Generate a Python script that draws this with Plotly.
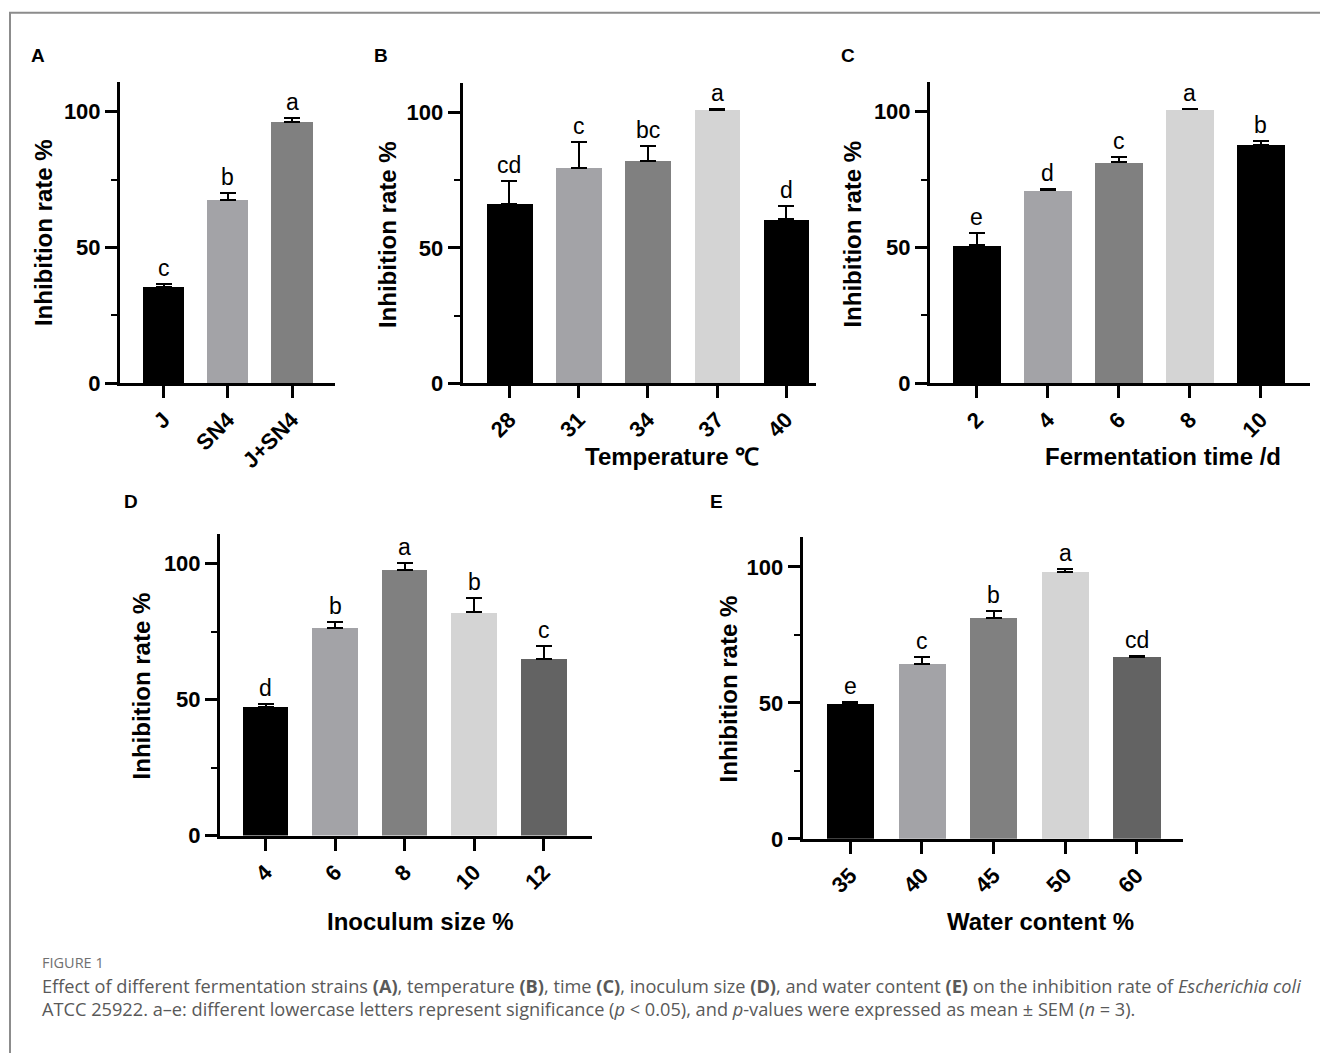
import plotly.graph_objects as go

W, H = 1320, 1053

# ---------------- data ----------------
cat_A = ["J", "SN4", "J+SN4"]
val_A = [35.6, 67.4, 96.2]
err_A = [1.0, 2.5, 1.6]
sig_A = ["c", "b", "a"]

cat_B = ["28", "31", "34", "37", "40"]
val_B = [66.4, 79.6, 82.2, 101.1, 60.5]
err_B = [8.3, 9.5, 5.3, 0.2, 5.1]
sig_B = ["cd", "c", "bc", "a", "d"]

cat_C = ["2", "4", "6", "8", "10"]
val_C = [50.8, 71.0, 81.3, 100.8, 87.7]
err_C = [4.6, 0.4, 2.0, 0.2, 1.3]
sig_C = ["e", "d", "c", "a", "b"]

cat_D = ["4", "6", "8", "10", "12"]
val_D = [47.3, 76.4, 97.8, 82.1, 64.9]
err_D = [0.9, 2.1, 2.5, 5.1, 4.7]
sig_D = ["d", "b", "a", "b", "c"]

cat_E = ["35", "40", "45", "50", "60"]
val_E = [49.4, 64.3, 81.1, 98.2, 66.9]
err_E = [0.9, 2.4, 2.6, 1.1, 0.4]
sig_E = ["e", "c", "b", "a", "cd"]

y_ticks = [0, 50, 100]
y_title = "Inhibition rate %"

# ---------------- styling ----------------
BLACK, MID, DARK, LIGHT, DEEP = "#000000", "#a3a3a7", "#808080", "#d4d4d4", "#636363"
FONT = "Liberation Sans, Arial, sans-serif"

panels = [
    dict(key="A", cats=cat_A, vals=val_A, errs=err_A, sig=sig_A,
         colors=[BLACK, MID, DARK], xpx=(120, 335), y0=388, y100=113,
         xr=(-0.68, 2.67), bw=0.64, xtitle=None,
         ytpos=(43, 236), letter=(38, 56)),
    dict(key="B", cats=cat_B, vals=val_B, errs=err_B, sig=sig_B,
         colors=[BLACK, MID, DARK, LIGHT, BLACK], xpx=(462.7, 816), y0=388, y100=114,
         xr=(-0.676, 4.43), bw=0.66, xtitle=("Temperature ℃", 672, 462),
         ytpos=(387, 237), letter=(381, 56)),
    dict(key="C", cats=cat_C, vals=val_C, errs=err_C, sig=sig_C,
         colors=[BLACK, MID, DARK, LIGHT, BLACK], xpx=(930, 1310), y0=388, y100=113,
         xr=(-0.66, 4.69), bw=0.666, xtitle=("Fermentation time /d", 1163, 462),
         ytpos=(852.5, 237), letter=(848, 56)),
    dict(key="D", cats=cat_D, vals=val_D, errs=err_D, sig=sig_D,
         colors=[BLACK, MID, DARK, LIGHT, DEEP], xpx=(220, 591.7), y0=846, y100=570.7,
         xr=(-0.655, 4.69), bw=0.657, xtitle=("Inoculum size %", 420, 933),
         ytpos=(141, 695), letter=(131, 508)),
    dict(key="E", cats=cat_E, vals=val_E, errs=err_E, sig=sig_E,
         colors=[BLACK, MID, DARK, LIGHT, DEEP], xpx=(802.7, 1183.3), y0=849.3, y100=574,
         xr=(-0.665, 4.65), bw=0.66, xtitle=("Water content %", 1040, 933),
         ytpos=(728, 698), letter=(716, 508)),
]

YMAX = 111


def px_x(v):
    return v / W


def px_y(v):
    return 1 - v / H


fig = go.Figure()
annotations = []

for i, p in enumerate(panels, start=1):
    xa = "x" if i == 1 else f"x{i}"
    ya = "y" if i == 1 else f"y{i}"
    unit = (p["y0"] - p["y100"]) / 100.0
    ytop = p["y0"] - YMAX * unit

    fig.add_trace(go.Bar(
        x=p["cats"], y=p["vals"], width=p["bw"],
        marker=dict(color=p["colors"], line=dict(width=0)),
        error_y=dict(type="data", symmetric=False, array=p["errs"],
                     arrayminus=[0] * len(p["errs"]), color="black",
                     thickness=2, width=8),
        xaxis=xa, yaxis=ya, showlegend=False, hoverinfo="skip",
    ))

    axis_common = dict(showline=True, linecolor="black", linewidth=3,
                       ticks="outside", tickwidth=3, tickcolor="black",
                       showgrid=False, zeroline=False, fixedrange=True)
    fig.update_layout(**{
        ("xaxis" if i == 1 else f"xaxis{i}"): dict(
            axis_common, type="category", domain=[px_x(p["xpx"][0]), px_x(p["xpx"][1])],
            range=list(p["xr"]), anchor=ya, ticklen=12, tickangle=-45,
            tickfont=dict(family=FONT, size=22, color="black", weight="bold"),
        ),
        ("yaxis" if i == 1 else f"yaxis{i}"): dict(
            axis_common, domain=[px_y(p["y0"]), px_y(ytop)], range=[0, YMAX],
            anchor=xa, tickvals=y_ticks, ticklen=12,
            tickfont=dict(family=FONT, size=22, color="black", weight="bold"),
            minor=dict(dtick=25, tick0=0, ticks="outside", ticklen=6,
                       tickwidth=2, tickcolor="black", showgrid=False),
        ),
    })

    # significance letters (category positions given by index)
    for j, (v, e, s) in enumerate(zip(p["vals"], p["errs"], p["sig"])):
        annotations.append(dict(
            x=j, y=v + e, xref=xa, yref=ya, text=s, showarrow=False,
            yanchor="bottom", yshift=1,
            font=dict(family=FONT, size=23, color="black"),
        ))

    # y title
    annotations.append(dict(
        x=px_x(p["ytpos"][0]), y=px_y(p["ytpos"][1]), xref="paper", yref="paper",
        text=y_title, textangle=-90, showarrow=False,
        xanchor="center", yanchor="middle",
        font=dict(family=FONT, size=24, color="black", weight="bold"),
    ))
    # x title
    if p["xtitle"]:
        t, tx, ty = p["xtitle"]
        annotations.append(dict(
            x=px_x(tx), y=px_y(ty), xref="paper", yref="paper", text=t,
            showarrow=False, xanchor="center", yanchor="middle",
            font=dict(family=FONT, size=24, color="black", weight="bold"),
        ))
    # panel letter
    annotations.append(dict(
        x=px_x(p["letter"][0]), y=px_y(p["letter"][1]), xref="paper", yref="paper",
        text=f"<b>{p['key']}</b>", showarrow=False, xanchor="center", yanchor="middle",
        font=dict(family=FONT, size=19, color="black"),
    ))

# caption
CAP = "Open Sans, Noto Sans, sans-serif"
annotations.append(dict(
    x=px_x(40), y=px_y(975), xref="paper", yref="paper", text="FIGURE 1",
    showarrow=False, xanchor="left", yanchor="middle",
    font=dict(family=CAP, size=14.5, color="#707070"),
))
annotations.append(dict(
    x=px_x(40), y=px_y(998), xref="paper", yref="paper",
    text=("Effect of different fermentation strains <b>(A)</b>, temperature <b>(B)</b>, "
          "time <b>(C)</b>, inoculum size <b>(D)</b>, and water content <b>(E)</b> on the "
          "inhibition rate of <i>Escherichia coli</i>"),
    showarrow=False, xanchor="left", yanchor="middle",
    font=dict(family=CAP, size=18.2, color="#595959"),
))
annotations.append(dict(
    x=px_x(40), y=px_y(1022), xref="paper", yref="paper",
    text=("ATCC 25922. a–e: different lowercase letters represent significance "
          "(<i>p</i> &lt; 0.05), and <i>p</i>-values were expressed as mean ± SEM (<i>n</i> = 3)."),
    showarrow=False, xanchor="left", yanchor="middle",
    font=dict(family=CAP, size=18.2, color="#595959"),
))

fig.update_layout(
    width=W, height=H, margin=dict(l=0, r=0, t=0, b=0),
    paper_bgcolor="white", plot_bgcolor="white",
    annotations=annotations, bargap=0,
    shapes=[dict(type="rect", xref="paper", yref="paper",
                 x0=px_x(10), x1=1.05, y0=-0.05, y1=px_y(13),
                 line=dict(color="#8c8c8c", width=2), fillcolor="rgba(0,0,0,0)")],
)

# remove the default 8px page margin so the figure fills the window exactly
fig.write_html("out.html", config={"displayModeBar": False},
               post_script="document.body.style.margin='0';document.body.style.overflow='hidden';")
